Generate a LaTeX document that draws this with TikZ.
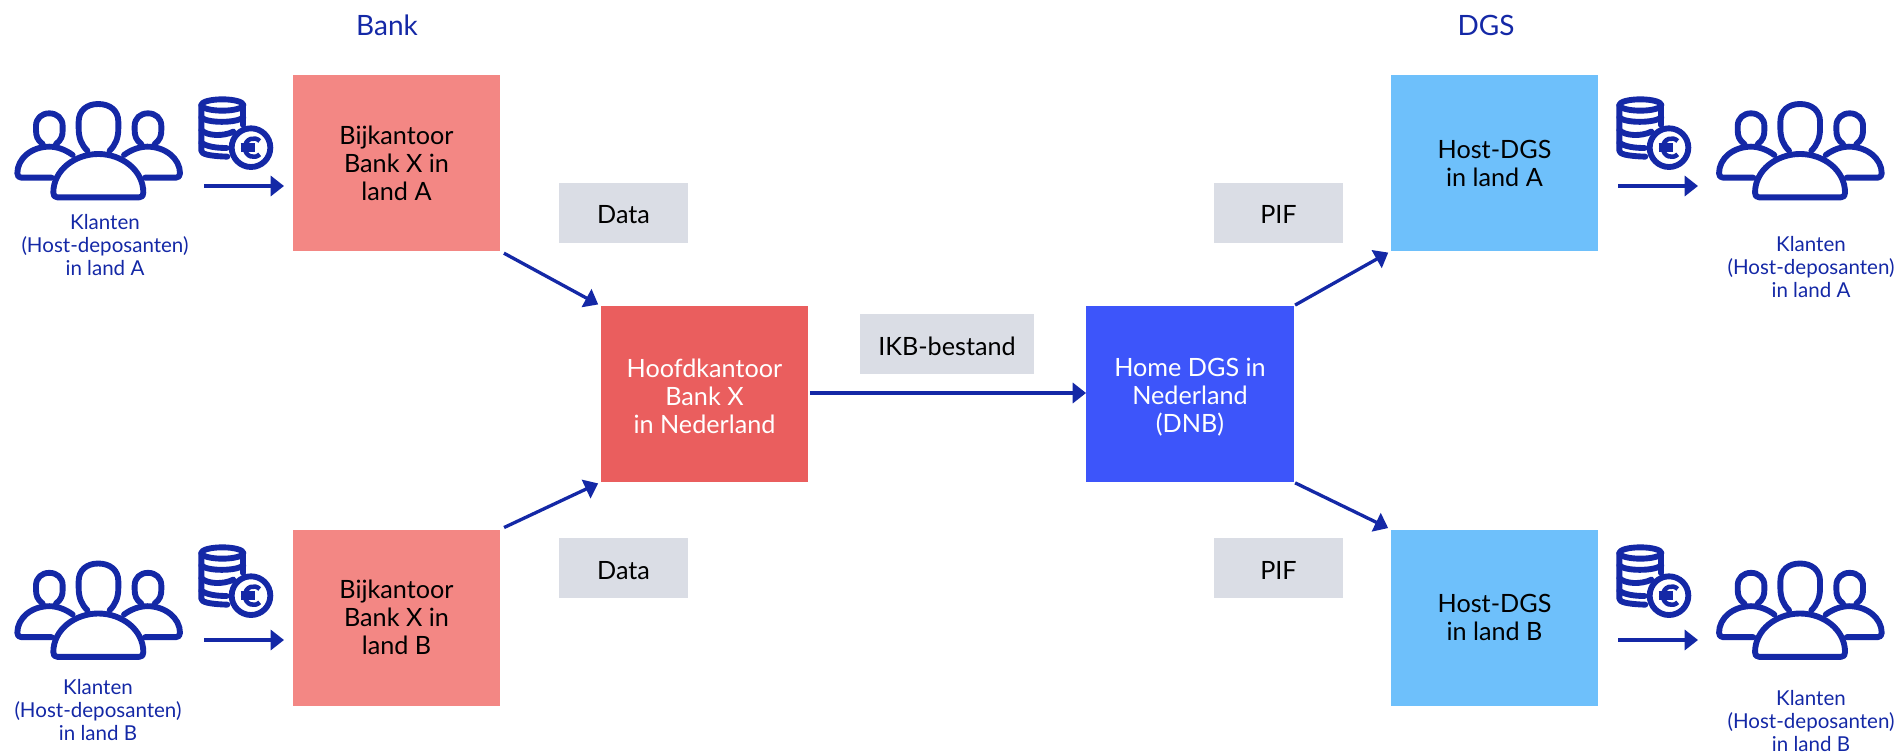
\documentclass[tikz,border=0pt]{standalone}
\usepackage{fontspec}
\setmainfont{Lato}
\usetikzlibrary{arrows.meta}
\definecolor{ink}{HTML}{1428A6}
\definecolor{pinkbox}{HTML}{F38784}
\definecolor{redbox}{HTML}{EA5E5E}
\definecolor{bluebox}{HTML}{3D55FA}
\definecolor{skybox}{HTML}{6EC0FB}
\definecolor{greybox}{HTML}{DADDE5}
\newcommand{\lowerline}{\rule{0pt}{18pt}}
\tikzset{
  x=0.75pt,y=-0.75pt,
  box/.style={minimum width=155.5pt,minimum height=132pt,inner sep=0pt,align=center,font=\fontsize{18.9}{21}\selectfont},
  tag/.style={fill=greybox,minimum width=97pt,minimum height=45pt,inner sep=0pt,font=\fontsize{18.9}{21}\selectfont,text=black,text height=17pt,text depth=0pt},
  link/.style={draw=ink,line width=2.5pt,-{Triangle[length=10pt,width=15pt]}},
  capt/.style={text=ink,align=center,font=\fontsize{15.4}{17}\selectfont},
  headg/.style={text=ink,font=\fontsize{21}{24}\selectfont},
  icon/.style={draw=ink,line width=4.4pt,line join=round,line cap=round},
  people/.pic={
    \begin{scope}[icon,x=0.25pt,y=-0.25pt]
      \draw (262,212) .. controls (245,195) and (236,175) .. (236,145) -- (236,125) .. controls (236,92) and (260,72) .. (295,72) .. controls (330,72) and (355,92) .. (355,125) -- (355,145) .. controls (355,175) and (346,195) .. (329,212);
      \draw (172,352) .. controls (163,352) and (160,347) .. (160,338) .. controls (160,270) and (225,222) .. (295,222) .. controls (365,222) and (430,270) .. (430,338) .. controls (430,347) and (427,352) .. (418,352) -- cycle;
      \draw (128,192) .. controls (112,180) and (108,168) .. (108,150) -- (108,138) .. controls (108,115) and (125,100) .. (148,100) .. controls (171,100) and (188,115) .. (188,138) -- (188,150) .. controls (188,168) and (184,180) .. (168,192);
      \draw (218,225) .. controls (195,208) and (170,200) .. (148,200) .. controls (95,200) and (52,235) .. (52,280) .. controls (52,288) and (56,293) .. (64,293) -- (155,293);
      \draw (464,192) .. controls (480,180) and (484,168) .. (484,150) -- (484,138) .. controls (484,115) and (467,100) .. (444,100) .. controls (421,100) and (404,115) .. (404,138) -- (404,150) .. controls (404,168) and (408,180) .. (424,192);
      \draw (372,225) .. controls (395,208) and (420,200) .. (442,200) .. controls (495,200) and (540,235) .. (540,280) .. controls (540,288) and (536,293) .. (528,293) -- (435,293);
    \end{scope}
  },
  coins/.pic={
    \begin{scope}[icon,x=0.25pt,y=-0.25pt]
      \draw (667,75) ellipse [x radius=63,y radius=17];
      \draw (604,75) -- (604,212) .. controls (604,222) and (625,228) .. (682,230);
      \draw (730,75) -- (730,135);
      \draw (604,112) .. controls (620,130) and (710,130) .. (730,112);
      \draw (604,150) .. controls (620,168) and (670,170) .. (700,155);
      \draw (604,188) .. controls (620,200) and (650,204) .. (680,204);
      \draw (753,203) circle [radius=58];
      \begin{scope}[line width=3.4pt,line cap=butt]
        \draw (779,183) .. controls (765,168) and (735,175) .. (735,203) .. controls (735,231) and (765,238) .. (779,223);
        \draw (722,196) -- (765,196);
        \draw (722,210) -- (765,210);
      \end{scope}
    \end{scope}
  },
}
\begin{document}
\begin{tikzpicture}
\useasboundingbox (0,0) rectangle (1896,753);
\node[box,fill=pinkbox] (pa) at (396.5,163) {Bijkantoor\\Bank X in\\land A};
\node[box,fill=pinkbox] (pb) at (396.5,617.5) {Bijkantoor\\Bank X in\\land B};
\node[box,fill=redbox,text=white] (hq) at (704.5,394) {\lowerline Hoofdkantoor\\Bank X\\in Nederland};
\node[box,fill=bluebox,text=white] (home) at (1190,394) {\lowerline Home DGS in\\Nederland\\(DNB)};
\node[box,fill=skybox] (ha) at (1494.5,163) {Host-DGS\\in land A};
\node[box,fill=skybox] (hb) at (1494.5,617.5) {Host-DGS\\in land B};
\node[tag] (d1) at (623.5,212.5) {Data};
\node[tag] (d2) at (623.5,568) {Data};
\node[tag,minimum width=130.5pt] (ikb) at (947,344) {IKB-bestand};
\node[tag] (p1) at (1278.5,212.5) {PIF};
\node[tag] (p2) at (1278.5,568) {PIF};
\node[headg] (tb) at (387,25) {Bank};
\node[headg] (td) at (1486,25) {DGS};
\draw[link,shorten <=3pt,shorten >=2pt] (pa.south east) -- (hq.north west);
\draw[link,shorten <=3pt,shorten >=2pt] (pb.north east) -- (hq.south west);
\draw[link,shorten <=1pt] (hq.east |- 0,393) -- (home.west |- 0,393);
\draw[link,shorten <=1pt,shorten >=2pt] (home.north east) -- (ha.south west);
\draw[link,shorten <=1pt,shorten >=2pt] (home.south east) -- (hb.north west);
\pic at (0,80) {people};
\pic at (0,539.5) {people};
\pic at (1701.7,80) {people};
\pic at (1701.7,539.5) {people};
\pic at (0,80) {coins};
\pic at (0,528) {coins};
\pic at (1418,80) {coins};
\pic at (1418,528) {coins};
\coordinate (m1a) at (204,186); \coordinate (m1b) at (284,186);
\coordinate (m2a) at (204,640); \coordinate (m2b) at (284,640);
\coordinate (m3a) at (1618,186); \coordinate (m3b) at (1698,186);
\coordinate (m4a) at (1618,640); \coordinate (m4b) at (1698,640);
\draw[link] (m1a) -- (m1b);
\draw[link] (m2a) -- (m2b);
\draw[link] (m3a) -- (m3b);
\draw[link] (m4a) -- (m4b);
\node[capt] (c1) at (105,245) {Klanten\\(Host-deposanten)\\in land A};
\node[capt] (c2) at (98,710) {Klanten\\(Host-deposanten)\\in land B};
\node[capt] (c3) at (1811,267) {Klanten\\(Host-deposanten)\\in land A};
\node[capt] (c4) at (1811,721) {Klanten\\(Host-deposanten)\\in land B};
\end{tikzpicture}
\end{document}
